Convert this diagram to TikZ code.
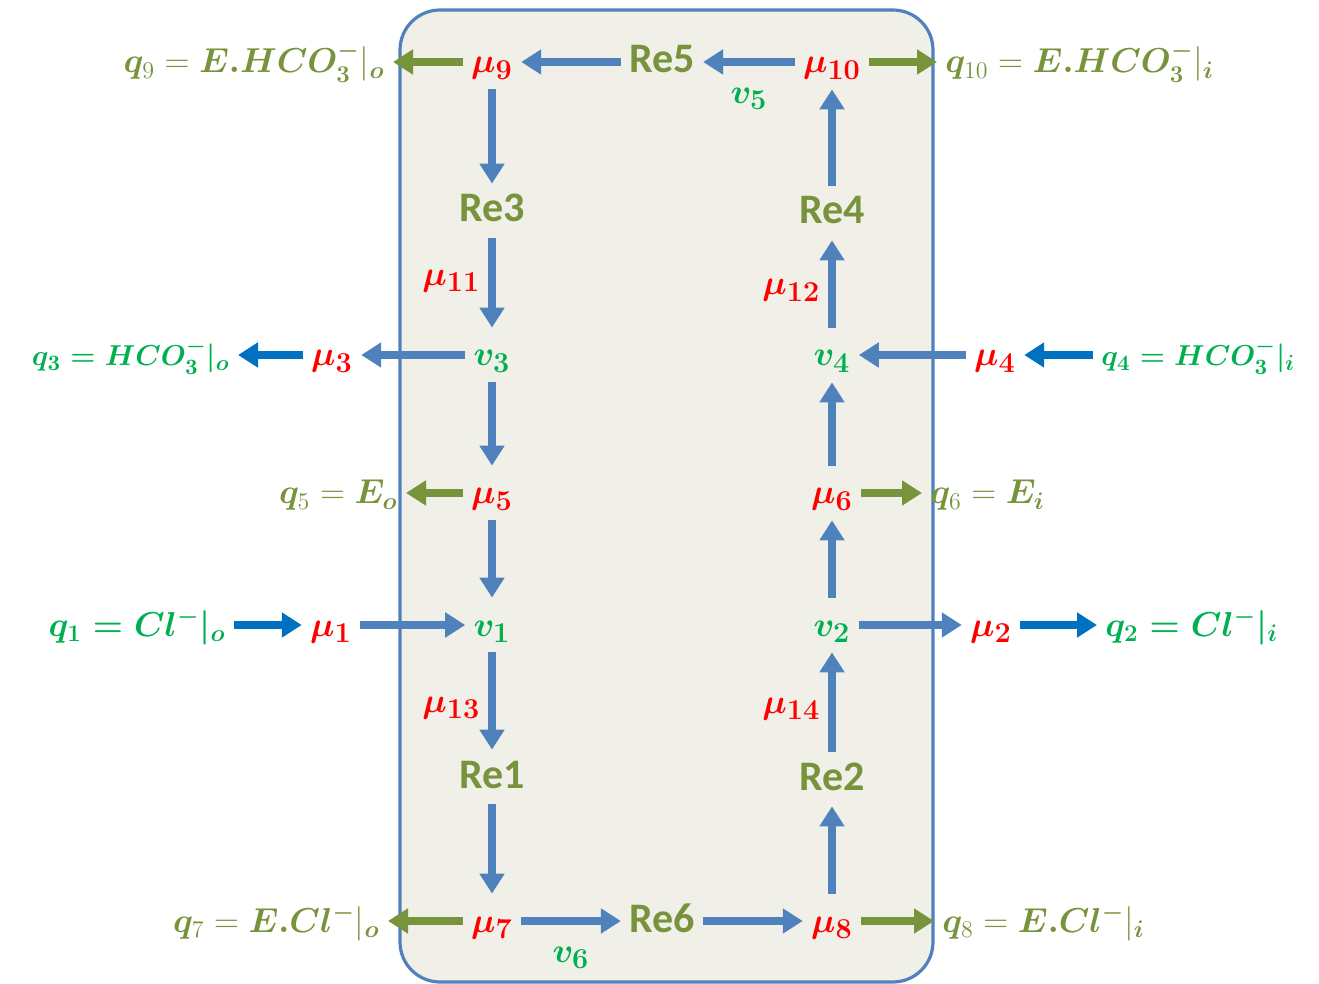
\documentclass[tikz,border=0pt]{standalone}
\usepackage{amsmath, bm}
\usepackage{fontspec}
\newfontfamily\calibri{Carlito}
\usepackage{tikz}
\usetikzlibrary{arrows.meta}
\definecolor{olivegreen}{RGB}{119,147,60}
\definecolor{leafgreen}{RGB}{0,176,80}
\definecolor{flowblue}{RGB}{79,129,189}
\definecolor{fluxblue}{RGB}{0,112,192}
\definecolor{cellfill}{RGB}{240,239,232}

\begin{document}
\begin{tikzpicture}[x=0.5pt, y=-0.5pt,
    every node/.style={inner sep=4pt, text height=15pt, text depth=4pt},
    re/.style={text=olivegreen, font=\calibri\bfseries\fontsize{21}{25}\selectfont},
    mu/.style={text=red, font=\fontsize{19}{23}\selectfont\boldmath},
    vv/.style={text=leafgreen, font=\fontsize{19}{23}\selectfont\boldmath},
    qg/.style={text=leafgreen, font=\fontsize{16.5}{20}\selectfont\boldmath},
    qe/.style={text=olivegreen, font=\fontsize{16.5}{20}\selectfont},
    flow/.style={flowblue, line width=3.7pt, -{Triangle[length=10pt,width=12pt]}},
    ext/.style={fluxblue, line width=3.7pt, -{Triangle[length=10pt,width=12pt]}},
    outflow/.style={olivegreen, line width=3.7pt, -{Triangle[length=10pt,width=12pt]}}]
  \useasboundingbox (0,0) rectangle (1319,984);
  % cell
  \draw[flowblue, line width=1.6pt, fill=cellfill, rounded corners=20pt] (400,10) rectangle (933,982);

  % top row
  \node[mu] (mu9) at (492,62) {$\mu_{9}$};
  \node[re] (re5) at (662,62) {Re5};
  \node[mu] (mu10) at (832,62) {$\mu_{10}$};
  \node[qe, anchor=east] (q9) at (393,62) {$\bm{q}_{9} = \bm{E.HCO_3^-}|_{\bm{o}}$};
  \node[qe, anchor=west] (q10) at (937,62) {$\bm{q}_{10} = \bm{E.HCO_3^-}|_{\bm{i}}$};
  \node[re] (re3) at (492,211) {Re3};
  \node[re] (re4) at (832,213) {Re4};

  % bicarbonate row
  \node[vv] (v3) at (492,355) {$v_{3}$};
  \node[mu] (mu3) at (332,355) {$\mu_{3}$};
  \node[qg, anchor=east, font=\fontsize{15}{18}\selectfont\boldmath] (q3) at (238,355) {$q_{3} = HCO_3^-|_o$};
  \node[vv] (v4) at (832,355) {$v_{4}$};
  \node[mu] (mu4) at (995,355) {$\mu_{4}$};
  \node[qg, anchor=west, font=\fontsize{15}{18}\selectfont\boldmath] (q4) at (1093,355) {$q_{4} = HCO_3^-|_i$};

  % exchanger row
  \node[mu] (mu5) at (492,493) {$\mu_{5}$};
  \node[qe, anchor=east] (q5) at (406,493) {$\bm{q}_{5} = \bm{E}_{\bm{o}}$};
  \node[mu] (mu6) at (832,493) {$\mu_{6}$};
  \node[qe, anchor=west] (q6) at (922,493) {$\bm{q}_{6} = \bm{E}_{\bm{i}}$};

  % chloride row
  \node[vv] (v1) at (492,625) {$v_{1}$};
  \node[mu] (mu1) at (331,625) {$\mu_{1}$};
  \node[qg, anchor=east] (q1) at (234,625) {$q_{1} = Cl^-|_o$};
  \node[vv] (v2) at (832,625) {$v_{2}$};
  \node[mu] (mu2) at (991,625) {$\mu_{2}$};
  \node[qg, anchor=west] (q2) at (1097,625) {$q_{2} = Cl^-|_i$};

  % bottom row
  \node[re] (re1) at (492,777) {Re1};
  \node[re] (re2) at (832,779) {Re2};
  \node[mu] (mu7) at (492,921) {$\mu_{7}$};
  \node[re] (re6) at (662,921) {Re6};
  \node[mu] (mu8) at (832,921) {$\mu_{8}$};
  \node[qe, anchor=east] (q7) at (388,921) {$\bm{q}_{7} = \bm{E.Cl^-}|_{\bm{o}}$};
  \node[qe, anchor=west] (q8) at (934,921) {$\bm{q}_{8} = \bm{E.Cl^-}|_{\bm{i}}$};

  % flows
  \draw[flow] (re5) -- (mu9);
  \draw[flow] (mu10) -- node[vv, below] {$v_{5}$} (re5);
  \draw[outflow] (mu9) -- (q9);
  \draw[outflow] (mu10) -- (q10);
  \draw[flow] (mu9) -- (re3);
  \draw[flow] (re3) -- node[mu, left, pos=0.4] {$\mu_{11}$} (v3);
  \draw[flow] (v4) -- node[mu, left] {$\mu_{12}$} (re4);
  \draw[flow] (re4) -- (mu10);
  \draw[flow] (v3) -- (mu3);
  \draw[ext] (mu3) -- (q3);
  \draw[ext] (q4) -- (mu4);
  \draw[flow] (mu4) -- (v4);
  \draw[flow] (v3) -- (mu5);
  \draw[outflow] (mu5) -- (q5);
  \draw[flow] (mu5) -- (v1);
  \draw[flow] (mu6) -- (v4);
  \draw[outflow] (mu6) -- (q6);
  \draw[flow] (v2) -- (mu6);
  \draw[ext] (q1) -- (mu1);
  \draw[flow] (mu1) -- (v1);
  \draw[flow] (v2) -- (mu2);
  \draw[ext] (mu2) -- (q2);
  \draw[flow] (v1) -- node[mu, left] {$\mu_{13}$} (re1);
  \draw[flow] (re2) -- node[mu, left] {$\mu_{14}$} (v2);
  \draw[flow] (re1) -- (mu7);
  \draw[flow] (mu7) -- node[vv, below] {$v_{6}$} (re6);
  \draw[flow] (re6) -- (mu8);
  \draw[flow] (mu8) -- (re2);
  \draw[outflow] (mu7) -- (q7);
  \draw[outflow] (mu8) -- (q8);
\end{tikzpicture}
\end{document}
